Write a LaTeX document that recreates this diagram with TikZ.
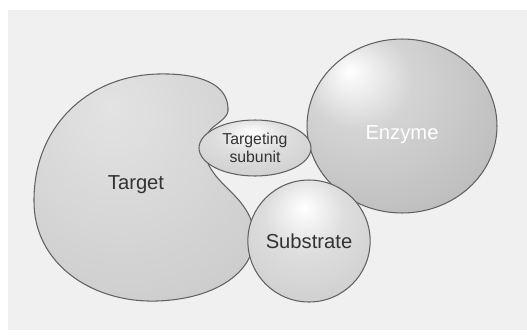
\documentclass[tikz,border=0pt]{standalone}
\usepackage{fontspec}
\setmainfont{Liberation Sans}
\usetikzlibrary{shapes.geometric,calc}
\pgfdeclareradialshading{sphere}{\pgfpoint{-14bp}{16bp}}{color(0bp)=(white); color(14bp)=(black!17); color(40bp)=(black!27); color(75bp)=(black!33)}
\pgfdeclareradialshading{smallsphere}{\pgfpoint{-2bp}{14bp}}{color(0bp)=(white); color(16bp)=(black!13); color(45bp)=(black!22); color(75bp)=(black!26)}
\pgfdeclareradialshading{kidney}{\pgfpoint{-8bp}{18bp}}{color(0bp)=(black!11); color(30bp)=(black!18); color(75bp)=(black!28)}
\tikzset{
  blob/.style={draw=black!62,line width=0.6pt},
  ball/.style={blob,ellipse,inner sep=0pt,shading=sphere},
  blobtext/.style={font=\fontsize{11.5}{13}\selectfont,text=black!80},
}
\begin{document}
\begin{tikzpicture}[x=0.02cm,y=-0.02cm]
\useasboundingbox(0,0)rectangle(527,335);
\fill[white](0,0)rectangle(527,335);
\fill[black!6](8,10)rectangle(527,330);
%
\path[blob,shading=kidney](228,108)..controls(227,84)and(200,73)..(158,74)
  ..controls(86,76)and(34,128)..(34,200)
  ..controls(33,262)and(90,303)..(157,301)
  ..controls(218,299)and(257,270)..(254,233)
  ..controls(251,203)and(225,190)..(213,172)
  ..controls(203,158)and(200,140)..(212,128)
  ..controls(222,120)and(229,116)..(228,108)--cycle;
\node[blobtext](target)at(136,185){Target};
%
\node[ball,minimum width=3.8cm,minimum height=3.48cm](enzyme)at(402,126){};
\node[blobtext,text=white](enzymetext)at($(enzyme)+(0,9)$){Enzyme};
\node[ball,shading=smallsphere,minimum width=2.24cm,minimum height=2.44cm,blobtext](substrate)at(309,241){Substrate};
\node[ball,shading=smallsphere,minimum width=2.24cm,minimum height=1.12cm,align=center,
  font=\fontsize{9}{10.5}\selectfont,text=black!80](subunit)at(255,148){Targeting\\subunit};
\end{tikzpicture}
\end{document}
